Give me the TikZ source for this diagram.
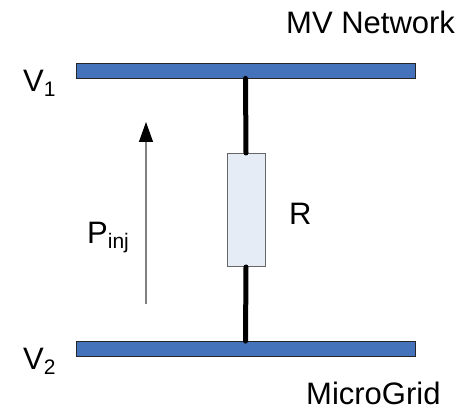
\documentclass[tikz,border=0pt]{standalone}
\usepackage{fontspec}
\setmainfont{Liberation Sans}
\usetikzlibrary{arrows.meta}
\newcommand{\lowtext}[1]{\raisebox{-4.5pt}{\fontsize{21}{21}\selectfont #1}}
\definecolor{busblue}{HTML}{4472BB}
\definecolor{resfill}{HTML}{E6ECF6}
\tikzset{
  label/.style={inner sep=0pt,font=\fontsize{31}{36}\selectfont},
  bus/.style={draw=black!85,line width=0.8pt,fill=busblue,minimum width=339pt,minimum height=15pt,inner sep=0pt},
  wire/.style={line width=5pt,line cap=round}
}
\begin{document}
\begin{tikzpicture}[x=1pt,y=1pt]
\useasboundingbox (0,0) rectangle (463,411);
\node[bus] (busone) at (245.5,340.5) {};
\node[bus] (bustwo) at (245.5,62) {};
\node[draw=black!60,line width=1pt,fill=resfill,minimum width=38pt,minimum height=113pt,inner sep=0pt] (res) at (246,201) {};
\draw[wire] (busone.south) -- (res.north);
\draw[wire] (res.south) -- (bustwo.north);
\coordinate (pstart) at (146,107);
\coordinate (pend) at (146,289);
\draw[gray,line width=1.2pt,-{Triangle[black,width=14pt,length=20pt]}] (pstart) -- (pend);
\node[label,anchor=base west] (mv) at (286,377) {MV Network};
\node[label,anchor=base west] (mg) at (306,6) {MicroGrid};
\node[label,anchor=base west] (vone) at (23,319) {V\lowtext{1}};
\node[label,anchor=base west] (vtwo) at (23,41) {V\lowtext{2}};
\node[label,anchor=base west] (pinj) at (87,167) {P\lowtext{inj}};
\node[label,anchor=base west] (rlabel) at (289,186) {R};
\end{tikzpicture}
\end{document}
